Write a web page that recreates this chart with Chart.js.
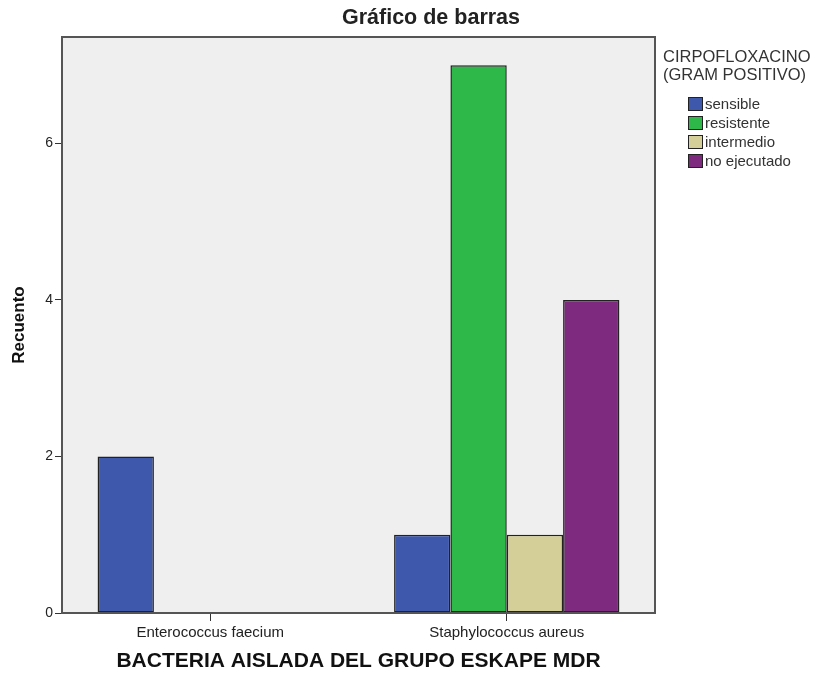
<!DOCTYPE html>
<html>
<head>
<meta charset="utf-8">
<script src="https://cdn.jsdelivr.net/npm/chart.js@4"></script>
<style>
  body { margin: 0; background: #fff; font-family: "Liberation Sans", Arial, sans-serif; }
  #wrap { position: relative; width: 824px; height: 675px; }
  #title { position: absolute; top: 5px; left: 431px; transform: translateX(-50%); font-size: 21.5px; font-weight: bold; color: #222; white-space: nowrap; }
  #legend { position: absolute; left: 663px; top: 47px; color: #333; }
  #legend .lt { font-size: 16.5px; line-height: 18px; }
  #legend .items { margin-top: 11px; margin-left: 25px; }
  #legend .item { font-size: 15px; line-height: 19px; height: 19px; display: flex; align-items: center; }
  #legend .sw { width: 15px; height: 14px; border: 1.5px solid #222; margin-right: 2px; box-sizing: border-box; }
</style>
</head>
<body>
<div id="wrap">
  <canvas id="chart" width="824" height="675"></canvas>
  <div id="title">Gráfico de barras</div>
  <div id="legend"></div>
</div>
<script>
const categories = ["Enterococcus faecium", "Staphylococcus aureus"];
const seriesNames = ["sensible", "resistente", "intermedio", "no ejecutado"];
const sensible = [2, 1];
const resistente = [0, 7];
const intermedio = [0, 1];
const noEjecutado = [0, 4];
const colors = ["#3e58ac", "#2fb84a", "#d4cf99", "#7e2a7e"];
const yTicks = [0, 2, 4, 6];

const legendTitle = ["CIRPOFLOXACINO", "(GRAM POSITIVO)"];

function buildLegend() {
  const el = document.getElementById("legend");
  let html = legendTitle.map(t => `<div class="lt">${t}</div>`).join("");
  html += '<div class="items">';
  seriesNames.forEach((n, i) => {
    html += `<div class="item"><span class="sw" style="background:${colors[i]}"></span>${n}</div>`;
  });
  html += "</div>";
  el.innerHTML = html;
}

const plotBox = {
  id: "plotBox",
  beforeDraw(chart) {
    const { ctx, chartArea: a } = chart;
    ctx.save();
    ctx.fillStyle = "#efefef";
    ctx.fillRect(a.left, a.top, a.right - a.left, a.bottom - a.top);
    ctx.restore();
  },
  afterDraw(chart) {
    const { ctx, chartArea: a } = chart;
    ctx.save();
    ctx.strokeStyle = "#555";
    ctx.lineWidth = 2;
    ctx.strokeRect(a.left, a.top, a.right - a.left, a.bottom - a.top);
    ctx.restore();
  }
};

function setupChart() {
  const ctx = document.getElementById("chart").getContext("2d");
  const values = [sensible, resistente, intermedio, noEjecutado];
  new Chart(ctx, {
    type: "bar",
    data: {
      labels: categories,
      datasets: seriesNames.map((n, i) => ({
        label: n,
        data: values[i],
        backgroundColor: colors[i],
        borderColor: "#222",
        borderWidth: 1.5,
        borderSkipped: false,
        categoryPercentage: 0.76,
        barPercentage: 1
      }))
    },
    options: {
      responsive: false,
      animation: false,
      layout: { padding: { top: 37, right: 169, bottom: 0, left: 0 } },
      plugins: {
        legend: { display: false },
        title: { display: false },
        tooltip: { enabled: false }
      },
      scales: {
        x: {
          offset: true,
          grid: { offset: false, drawOnChartArea: false, drawTicks: true, tickLength: 8, color: "#333" },
          border: { display: true, color: "#444", width: 2 },
          ticks: { color: "#222", padding: 3, font: { family: "Liberation Sans", size: 15 } },
          title: {
            display: true,
            text: "BACTERIA AISLADA DEL GRUPO ESKAPE MDR",
            color: "#111",
            padding: { top: 0, bottom: 1 },
            font: { family: "Liberation Sans", size: 21, weight: "bold" }
          },
          afterFit(scale) { scale.height = 62; }
        },
        y: {
          min: 0,
          max: 7.36,
          afterBuildTicks(scale) { scale.ticks = yTicks.map(v => ({ value: v })); },
          grid: { drawOnChartArea: false, drawTicks: true, tickLength: 7, color: "#333" },
          border: { display: true, color: "#555", width: 2 },
          ticks: { color: "#222", padding: 2, font: { family: "Liberation Sans", size: 14 } },
          title: {
            display: true,
            text: "Recuento",
            color: "#111",
            padding: { top: 9, bottom: 0 },
            font: { family: "Liberation Sans", size: 17, weight: "bold" }
          },
          afterFit(scale) { scale.width = 62; }
        }
      }
    },
    plugins: [plotBox]
  });
}

buildLegend();
setupChart();
</script>
</body>
</html>
